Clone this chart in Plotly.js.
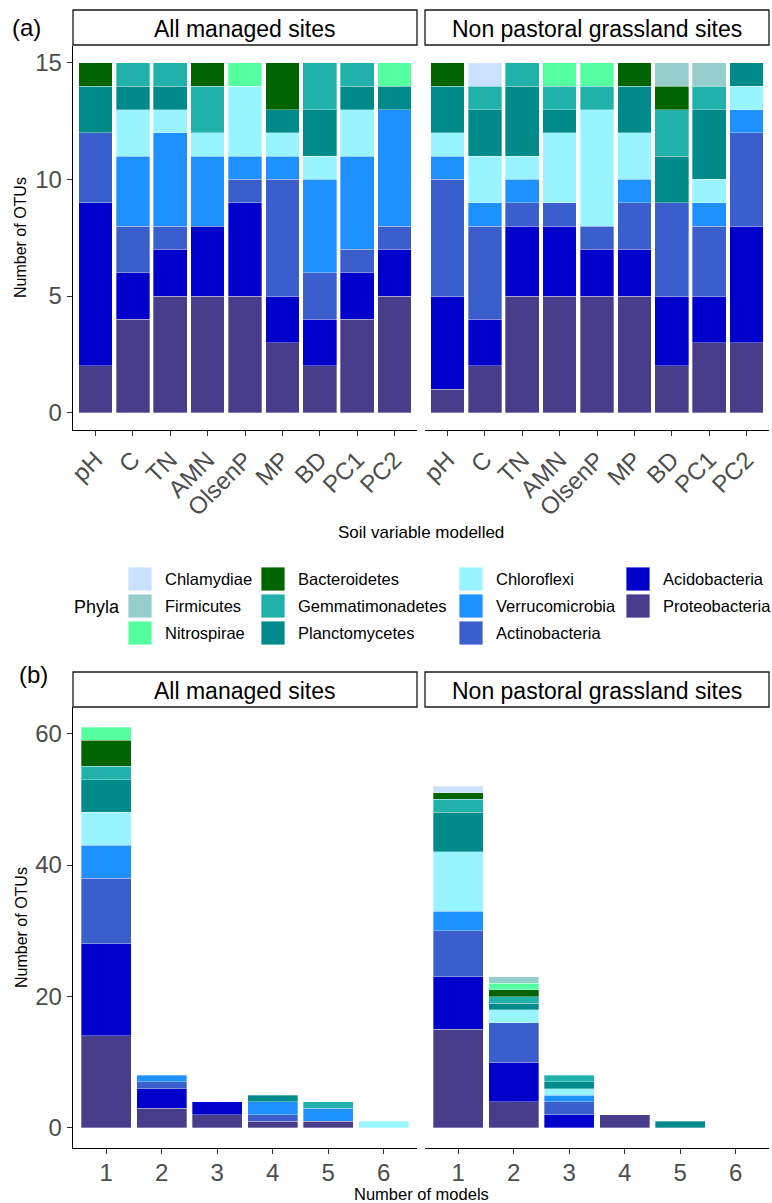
<!DOCTYPE html>
<html>
<head>
<meta charset="utf-8">
<script src="https://cdn.plot.ly/plotly-3.0.1.min.js"></script>
<style>html,body{margin:0;padding:0;background:#fff;}#chart{width:772px;height:1203px;}</style>
</head>
<body>
<div id="chart"></div>
<script>
// ---------- DATA ----------
const variables = ['pH', 'C', 'TN', 'AMN', 'OlsenP', 'MP', 'BD', 'PC1', 'PC2'];
const models = [1, 2, 3, 4, 5, 6];
const facetNames = ['All managed sites', 'Non pastoral grassland sites'];

// stack order, bottom to top
const phyla = ['Proteobacteria', 'Acidobacteria', 'Actinobacteria', 'Verrucomicrobia', 'Chloroflexi',
  'Planctomycetes', 'Gemmatimonadetes', 'Bacteroidetes', 'Nitrospirae', 'Firmicutes', 'Chlamydiae'];
const phylaColors = ['#483D8B', '#0000CD', '#3A5FCD', '#1E90FF', '#98F5FF',
  '#008B8B', '#20B2AA', '#006400', '#54FF9F', '#96CDCD', '#CAE1FF'];

// (a) OTUs per soil variable; rows follow `phyla`, columns follow `variables`
const aAllManaged = [
  [2, 4, 5, 5, 5, 3, 2, 4, 5],  // Proteobacteria
  [7, 2, 2, 3, 4, 2, 2, 2, 2],  // Acidobacteria
  [3, 2, 1, 0, 1, 5, 2, 1, 1],  // Actinobacteria
  [0, 3, 4, 3, 1, 1, 4, 4, 5],  // Verrucomicrobia
  [0, 2, 1, 1, 3, 1, 1, 2, 0],  // Chloroflexi
  [2, 1, 1, 0, 0, 1, 2, 1, 1],  // Planctomycetes
  [0, 1, 1, 2, 0, 0, 2, 1, 0],  // Gemmatimonadetes
  [1, 0, 0, 1, 0, 2, 0, 0, 0],  // Bacteroidetes
  [0, 0, 0, 0, 1, 0, 0, 0, 1],  // Nitrospirae
  [0, 0, 0, 0, 0, 0, 0, 0, 0],  // Firmicutes
  [0, 0, 0, 0, 0, 0, 0, 0, 0]   // Chlamydiae
];
const aNonPastoral = [
  [1, 2, 5, 5, 5, 5, 2, 3, 3],
  [4, 2, 3, 3, 2, 2, 3, 2, 5],
  [5, 4, 1, 1, 1, 2, 4, 3, 4],
  [1, 1, 1, 0, 0, 1, 0, 1, 1],
  [1, 2, 1, 3, 5, 2, 0, 1, 1],
  [2, 2, 3, 1, 0, 2, 2, 3, 1],
  [0, 1, 1, 1, 1, 0, 2, 1, 0],
  [1, 0, 0, 0, 0, 1, 1, 0, 0],
  [0, 0, 0, 1, 1, 0, 0, 0, 0],
  [0, 0, 0, 0, 0, 0, 1, 1, 0],
  [0, 1, 0, 0, 0, 0, 0, 0, 0]
];

// (b) OTUs per number of models; rows follow `phyla`, columns follow `models`
const bAllManaged = [
  [14, 3, 2, 1, 1, 0],
  [14, 3, 2, 0, 0, 0],
  [10, 1, 0, 1, 0, 0],
  [5, 1, 0, 2, 2, 0],
  [5, 0, 0, 0, 0, 1],
  [5, 0, 0, 1, 0, 0],
  [2, 0, 0, 0, 1, 0],
  [4, 0, 0, 0, 0, 0],
  [2, 0, 0, 0, 0, 0],
  [0, 0, 0, 0, 0, 0],
  [0, 0, 0, 0, 0, 0]
];
const bNonPastoral = [
  [15, 4, 0, 2, 0, 0],
  [8, 6, 2, 0, 0, 0],
  [7, 6, 2, 0, 0, 0],
  [3, 0, 1, 0, 0, 0],
  [9, 2, 1, 0, 0, 0],
  [6, 1, 1, 0, 1, 0],
  [2, 1, 1, 0, 0, 0],
  [1, 1, 0, 0, 0, 0],
  [0, 1, 0, 0, 0, 0],
  [0, 1, 0, 0, 0, 0],
  [1, 0, 0, 0, 0, 0]
];

// ---------- BUILD ----------
const W = 772, H = 1203;
const px = v => v / W;
const py = v => 1 - v / H;
const FONT = '"Liberation Sans", Arial, sans-serif';
const TICKCOL = '#4D4D4D';

function makeTraces(matrix, xs, xa, ya) {
  return phyla.map((p, i) => ({
    type: 'bar',
    x: xs,
    y: matrix[i].map(v => (v === 0 ? null : v)),
    name: p,
    xaxis: xa, yaxis: ya,
    showlegend: false,
    marker: { color: phylaColors[i], line: { color: 'rgba(255,255,255,0.55)', width: 0.6 } },
    hovertemplate: p + ': %{y}<extra></extra>'
  }));
}

const data = [].concat(
  makeTraces(aAllManaged, variables, 'x', 'y'),
  makeTraces(aNonPastoral, variables, 'x2', 'y2'),
  makeTraces(bAllManaged, models, 'x3', 'y3'),
  makeTraces(bNonPastoral, models, 'x4', 'y4')
);

const leftDom = [px(73), px(417)];
const rightDom = [px(425), px(769)];
const aDom = [py(430), py(45.5)];
const bDom = [py(1148), py(707)];

const baseX = {
  showgrid: false, zeroline: false, showline: true, linecolor: '#000', linewidth: 1.3,
  ticks: 'outside', ticklen: 5, tickwidth: 1, tickcolor: '#333',
  tickfont: { family: FONT, size: 24, color: TICKCOL }, fixedrange: true
};
const baseYLeft = Object.assign({}, baseX);
const baseYRight = {
  showgrid: false, zeroline: false, showline: false, ticks: '', showticklabels: false, fixedrange: true
};

const layout = {
  width: W, height: H,
  margin: { l: 0, r: 0, t: 0, b: 0 },
  paper_bgcolor: '#fff', plot_bgcolor: '#fff',
  barmode: 'stack', bargap: 0.1,
  font: { family: FONT },
  xaxis: Object.assign({}, baseX, { domain: leftDom, anchor: 'y', type: 'category', range: [-0.6, 8.6], tickangle: -45 }),
  yaxis: Object.assign({}, baseYLeft, { domain: aDom, anchor: 'x', range: [-0.75, 15.75], tickvals: [0, 5, 10, 15] }),
  xaxis2: Object.assign({}, baseX, { domain: rightDom, anchor: 'y2', type: 'category', range: [-0.6, 8.6], tickangle: -45 }),
  yaxis2: Object.assign({}, baseYRight, { domain: aDom, anchor: 'x2', range: [-0.75, 15.75] }),
  xaxis3: Object.assign({}, baseX, { domain: leftDom, anchor: 'y3', range: [0.4, 6.6], tickvals: models, ticklabelstandoff: -2 }),
  yaxis3: Object.assign({}, baseYLeft, { domain: bDom, anchor: 'x3', range: [-3.05, 64.05], tickvals: [0, 20, 40, 60] }),
  xaxis4: Object.assign({}, baseX, { domain: rightDom, anchor: 'y4', range: [0.4, 6.6], tickvals: models, ticklabelstandoff: -2 }),
  yaxis4: Object.assign({}, baseYRight, { domain: bDom, anchor: 'x4', range: [-3.05, 64.05] }),
  shapes: [],
  annotations: []
};

function ann(text, x, y, opts) {
  return Object.assign({
    text: text, x: px(x), y: py(y), xref: 'paper', yref: 'paper',
    showarrow: false, xanchor: 'center', yanchor: 'middle',
    font: { family: FONT, size: 17, color: '#000' }
  }, opts || {});
}

// facet strips
[[10, 45], [672, 707]].forEach(([t, b]) => {
  [[73, 417], [425, 769]].forEach(([l, r], k) => {
    layout.shapes.push({
      type: 'rect', xref: 'paper', yref: 'paper', x0: px(l), x1: px(r), y0: py(b), y1: py(t),
      line: { color: '#1a1a1a', width: 1.3 }, fillcolor: '#fff', layer: 'above'
    });
    layout.annotations.push(ann(facetNames[k], (l + r) / 2, (t + b) / 2 + 1, { font: { family: FONT, size: 23, color: '#000' } }));
  });
});

// panel labels
layout.annotations.push(ann('(a)', 26, 27, { font: { family: FONT, size: 24, color: '#000' } }));
layout.annotations.push(ann('(b)', 33, 674, { font: { family: FONT, size: 24, color: '#000' } }));

// axis titles
layout.annotations.push(ann('Number of OTUs', 21, 238, { textangle: -90, font: { family: FONT, size: 16, color: '#000' } }));
layout.annotations.push(ann('Number of OTUs', 21, 928, { textangle: -90, font: { family: FONT, size: 16, color: '#000' } }));
layout.annotations.push(ann('Soil variable modelled', 421, 532, { font: { family: FONT, size: 17, color: '#000' } }));
layout.annotations.push(ann('Number of models', 421, 1194, { font: { family: FONT, size: 16.5, color: '#000' } }));

// legend (column-major, reverse of stacking order)
const legendOrder = phyla.map((p, i) => i).reverse();
const colKeyX = [128, 261, 459, 626];
const rowTop = [567, 594, 621];
layout.annotations.push(ann('Phyla', 72, 607, { xanchor: 'left', font: { family: FONT, size: 18, color: '#000' } }));
legendOrder.forEach((idx, j) => {
  const c = Math.floor(j / 3), r = j % 3;
  const x0 = colKeyX[c], y0 = rowTop[r];
  layout.shapes.push({
    type: 'rect', xref: 'paper', yref: 'paper', x0: px(x0), x1: px(x0 + 24), y0: py(y0 + 24), y1: py(y0),
    line: { color: 'rgba(255,255,255,0.8)', width: 1 }, fillcolor: phylaColors[idx]
  });
  layout.annotations.push(ann(phyla[idx], x0 + 35, y0 + 12, { xanchor: 'left', font: { family: FONT, size: 16.5, color: '#000' } }));
});

Plotly.newPlot('chart', data, layout, { displayModeBar: false, staticPlot: true });
</script>
</body>
</html>
